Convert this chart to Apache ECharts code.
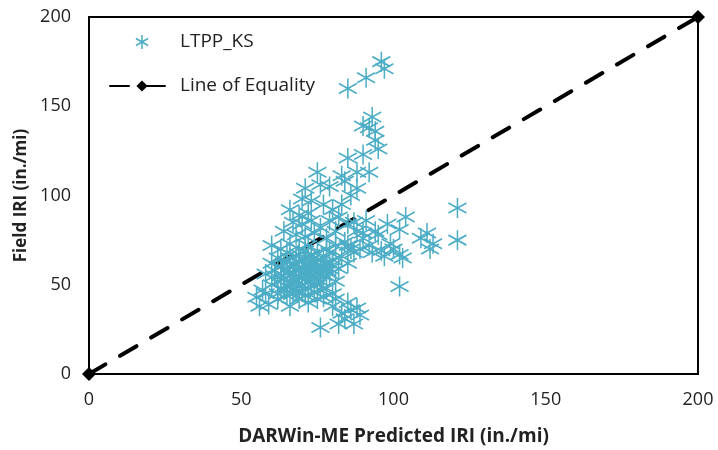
<!DOCTYPE html>
<html>
<head>
<meta charset="utf-8">
<script src="https://cdn.jsdelivr.net/npm/echarts@6/dist/echarts.min.js"></script>
<style>html,body{margin:0;padding:0;background:#fff}#c{width:718px;height:450px}</style>
</head>
<body>
<div id="c"></div>
<script>
// LTPP_KS points: [DARWin-ME predicted IRI, field IRI]
const ksPoints = [
  [85,160],[91,166],[97,171],[96,175],
  [90,139],[93,144],[94,136],[95,126],[90,123],[85,121],[92,113],[83,111],[75,113],[79,105],[92,138],[94,131],
  [121,93],[121,75],[102,49],[104,88],[111,79],[113,73],[102,81],[102,67],[99,73],[96,69],[93,68],[91,86],[90,79],[109,76],[112,70],[103,65],[98,84],[95,78],[88,80],[90,76],[92,72],[94,80],[87,68],[89,70],[85,72],[87,85],[97,66],[100,70],
  [76,26],[83,34],[88,37],[82,28],[87,28],[85,40],[80,38],[89,33],[84,31],[86,36],[81,42],
  [55,43],[56,38],[62,42],[66,38],[59,39],[69,42],[64,47],[58,45],[67,45],[72,40],[75,42],
  [71,104],[76,106],[70,98],[73,97],[77,95],[66,92],[69,89],[72,90],[80,92],[83,95],[86,100],[88,104],[84,108],[88,113],
  [67,85],[70,84],[73,86],[76,82],[79,86],[82,88],[64,80],[68,78],[71,77],[74,79],[78,76],[81,80],[85,84],
  [60,72],[63,70],[66,73],[69,70],[72,72],[75,68],[78,70],[81,72],[84,74],[62,65],[65,63],[68,66],[71,64],[74,62],[77,65],[80,64],[83,66],[86,70],
  [58,56],[61,55],[64,58],[67,54],[70,57],[73,55],[76,58],[79,56],[82,59],[85,62],[60,50],[63,48],[66,51],[69,49],[72,52],[75,50],[78,48],[81,52],[57,47],[62,45],[65,44],[68,46],[71,44],[74,46],[77,43],[80,45],
  [70,60],[72,61],[68,58],[74,57],[66,60],[71,53],[73,64],[75,60],[69,63],[67,56],[64,53],[77,55],[76,52],[70,50],[72,48],[65,68],[63,60],[60,62],[78,62],[79,68],
  [67,62],[69,55],[71,58],[73,59],[75,56],[68,52],[70,54],[72,57],[74,53],[66,57],[65,49],[67,48],[70,46],[73,50],[76,47],[63,55],[61,58],[62,52],[69,67],[71,69],[73,67],[75,64],[77,60],[79,59],[80,61],[78,58],[66,65],[64,62],[68,61],[72,66]
];
const equalityLine = [[0,0],[200,200]];
const axisMin = 0, axisMax = 200, axisStep = 50;
const seriesNames = ['LTPP_KS', 'Line of Equality'];
const xTitle = 'DARWin-ME Predicted IRI (in./mi)';
const yTitle = 'Field IRI (in./mi)';

const FONT = 'Open Sans';
const starPath = 'path://M0,-10L0,10M-8.66,-5L8.66,5M-8.66,5L8.66,-5';
const chart = echarts.init(document.getElementById('c'), null, {renderer: 'canvas'});
chart.setOption({
  animation: false,
  backgroundColor: '#fff',
  grid: {left: 89, right: 20, top: 17, bottom: 76, show: true, borderColor: '#000', borderWidth: 2,
         containLabel: false, outerBoundsMode: 'none'},
  legend: {
    orient: 'vertical', left: 104, top: 27, itemWidth: 64, itemHeight: 14, itemGap: 24,
    textStyle: {fontFamily: FONT, fontSize: 19, lineHeight: 20, color: '#222', padding: [0,0,0,1]},
    data: [
      {name: seriesNames[0], icon: starPath, itemStyle: {color: 'rgba(0,0,0,0)', borderColor: '#4bacc6', borderWidth: 1.5}},
      {name: seriesNames[1]}
    ]
  },
  xAxis: {
    type: 'value', min: axisMin, max: axisMax, interval: axisStep,
    name: xTitle, nameLocation: 'middle', nameGap: 53,
    nameTextStyle: {fontFamily: FONT, fontSize: 19, fontWeight: 'bold', color: '#222'},
    axisLine: {show: true, lineStyle: {color: '#000', width: 2}},
    axisTick: {show: false}, splitLine: {show: false},
    axisLabel: {fontFamily: FONT, fontSize: 18, color: '#222', margin: 17}
  },
  yAxis: {
    type: 'value', min: axisMin, max: axisMax, interval: axisStep,
    name: yTitle, nameLocation: 'middle', nameGap: 58,
    nameTextStyle: {fontFamily: FONT, fontSize: 17, fontWeight: 'bold', color: '#222'},
    axisLine: {show: true, lineStyle: {color: '#000', width: 2}},
    axisTick: {show: false}, splitLine: {show: false},
    axisLabel: {fontFamily: FONT, fontSize: 18, color: '#222', margin: 18}
  },
  series: [
    {
      name: seriesNames[1], type: 'line', data: equalityLine, clip: false, z: 2,
      symbol: 'diamond', symbolSize: 14, showSymbol: true,
      itemStyle: {color: '#000'},
      lineStyle: {color: '#000', width: 4, type: [19, 17], cap: 'round'}
    },
    {
      name: seriesNames[0], type: 'scatter', data: ksPoints, z: 3,
      symbol: starPath, symbolSize: [18, 20],
      itemStyle: {color: 'rgba(0,0,0,0)', borderColor: '#4bacc6', borderWidth: 1.6, opacity: 1}
    }
  ]
});
</script>
</body>
</html>
